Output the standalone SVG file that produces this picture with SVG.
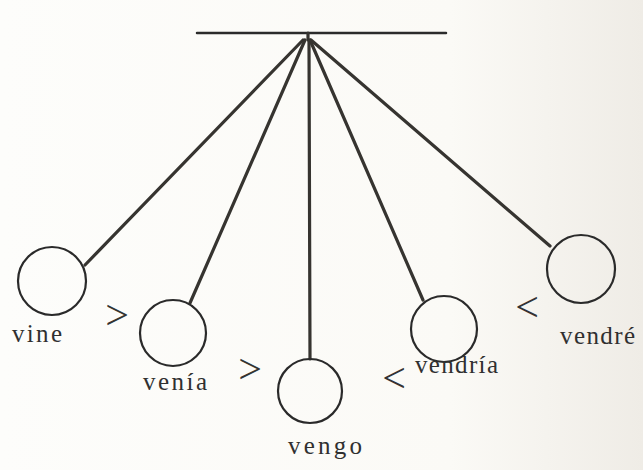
<svg xmlns="http://www.w3.org/2000/svg" width="643" height="470" viewBox="0 0 643 470">
<defs>
<linearGradient id="bg" x1="0" y1="0" x2="1" y2="0">
<stop offset="0" stop-color="#fdfdfb"/>
<stop offset="0.7" stop-color="#fbfaf6"/>
<stop offset="1" stop-color="#efece6"/>
</linearGradient>
<style>
.bar{stroke:#2b2b2b;stroke-width:2.5;fill:none;stroke-linecap:round}
.rod{stroke:#363430;stroke-width:3.2;fill:none;stroke-linecap:round}
.bob{stroke:#2a2a2a;stroke-width:2.2;fill:none}
.lbl{font-family:'Liberation Serif','DejaVu Serif',serif;font-size:25px;fill:#303030}
.sym{font-family:'Liberation Serif','DejaVu Serif',serif;font-size:42px;fill:#333;text-anchor:middle}
</style>
</defs>
<rect width="643" height="470" fill="url(#bg)"/>
<g id="connectors">
<line class="bar" x1="197" y1="33" x2="446" y2="33"/>
<line class="rod" x1="308" y1="33" x2="308" y2="40"/>
<line class="rod" x1="303" y1="40" x2="85" y2="265"/>
<line class="rod" x1="305" y1="40" x2="190" y2="303"/>
<line class="rod" x1="309" y1="40" x2="310" y2="359"/>
<line class="rod" x1="310" y1="40" x2="423" y2="300"/>
<line class="rod" x1="311" y1="40" x2="550" y2="246"/>
</g>
<g id="vine">
<circle class="bob" cx="52" cy="281" r="34"/>
<text class="lbl" font-family="Liberation Serif, DejaVu Serif, serif" x="12" y="342" textLength="50" lengthAdjust="spacing">vine</text>
</g>
<g id="venia">
<circle class="bob" cx="173" cy="333" r="33"/>
<text class="lbl" font-family="Liberation Serif, DejaVu Serif, serif" x="143" y="390" textLength="64" lengthAdjust="spacing">venía</text>
</g>
<g id="vengo">
<circle class="bob" cx="310" cy="391" r="32"/>
<text class="lbl" font-family="Liberation Serif, DejaVu Serif, serif" x="288" y="454" textLength="74" lengthAdjust="spacing">vengo</text>
</g>
<g id="vendria">
<circle class="bob" cx="444" cy="329" r="33"/>
<text class="lbl" font-family="Liberation Serif, DejaVu Serif, serif" x="415" y="373" textLength="83" lengthAdjust="spacing">vendría</text>
</g>
<g id="vendre">
<circle class="bob" cx="581" cy="269" r="34"/>
<text class="lbl" font-family="Liberation Serif, DejaVu Serif, serif" x="560" y="344" textLength="75" lengthAdjust="spacing">vendré</text>
</g>
<g id="symbols">
<text class="sym" x="117" y="329">&gt;</text>
<text class="sym" x="250" y="383">&gt;</text>
<text class="sym" x="394" y="392">&lt;</text>
<text class="sym" x="527" y="321">&lt;</text>
</g>
</svg>
